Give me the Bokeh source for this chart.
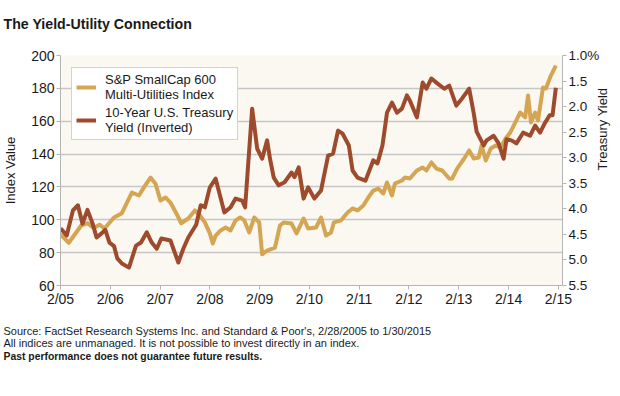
from bokeh.plotting import figure
from bokeh.models import Range1d, LinearAxis, FixedTicker, Legend, LegendItem, Title
from bokeh.embed import file_html
from bokeh.resources import INLINE
import math

FONT = "Liberation Sans"
GOLD = "#D4A553"
BROWN = "#9D4A2D"
TXT = "#1a1a1a"

# ---- data (x = months since Feb-2005) ----
x_tick_months = [0, 12, 24, 36, 48, 60, 72, 84, 96, 108, 120]
x_tick_labels = ["2/05", "2/06", "2/07", "2/08", "2/09", "2/10", "2/11", "2/12", "2/13", "2/14", "2/15"]
index_ticks = [60, 80, 100, 120, 140, 160, 180, 200]
yield_ticks = [1.0, 1.5, 2.0, 2.5, 3.0, 3.5, 4.0, 4.5, 5.0, 5.5]
yield_tick_labels = ["1.0%", "1.5", "2.0", "2.5", "3.0", "3.5", "4.0", "4.5", "5.0", "5.5"]

sp_month = [0, 1, 2, 5, 6.5, 8, 9.4, 10.6, 12.9, 14.8, 17.2, 18.9, 20.1, 21.7, 22.9, 24.1, 25.3, 26.5,
            27.9, 29.1, 30.8, 32.4, 33.6, 34.8, 36, 36.7, 37.4, 38.6, 39.8, 41, 42.2, 43.3, 44.3, 45.5,
            46.7, 47.9, 48.6, 49.8, 51.7, 52.9, 53.8, 55.7, 56.9, 58.6, 59.7, 61.6, 62.8, 64, 65.2, 65.9,
            67.6, 69.2, 70.4, 71.6, 73, 74.2, 75.4, 76.6, 77.8, 78.7, 79.9, 80.6, 82.3, 83, 84.2, 85.9,
            87.3, 88.2, 89.4, 90.6, 92, 93.7, 94.4, 95.6, 97.3, 98.5, 99.6, 100.8, 101.5, 102.5, 103.7,
            104.9, 106.1, 107.3, 108.4, 109.6, 110.8, 112, 112.7, 113.4, 114.4, 115.1, 116.3, 117, 118.2, 119.4]
sp_value = [91, 88.6, 86, 96.5, 98, 95, 97, 94.7, 101.4, 104, 116.6, 114.8, 119.7, 125.7, 122, 111.7, 113.6, 110.5,
            104, 97.9, 100.8, 105.7, 102.6, 98.4, 91.7, 85.6, 90.4, 93.5, 95.3, 93.5, 99.6, 101.4, 99.6, 92.3,
            101.4, 98.4, 79, 81.3, 83.1, 96.5, 98.4, 97.7, 91.7, 100.8, 94.7, 95.3, 101.4, 90.4, 92.3, 98.4,
            99.6, 104.4, 106.9, 105.7, 108.7, 113.6, 117.8, 119, 116, 122.7, 114.8, 122, 123.9, 125.7, 125.1, 130,
            131.8, 130, 134.9, 131.2, 130, 125.1, 125, 131.2, 137.3, 142.2, 137.3, 137.9, 145.2, 136.1, 143.4,
            145.2, 144, 149.5, 153.1, 159.2, 165.3, 162.3, 175.7, 159.2, 165.3, 160.4, 180.5, 179.9, 187.8, 193.9]

ty_month = [0, 1.5, 3, 4.2, 5.3, 6.5, 7.7, 8.7, 9.9, 10.8, 11.8, 12.9, 13.7, 14.8, 16.5, 18.2, 19.4, 20.8, 22,
            23.2, 24.3, 26.5, 28.4, 29.6, 30.8, 32.7, 33.8, 34.8, 36, 37.4, 39.5, 41, 42.2, 43.8, 44.5, 46.2,
            47.4, 48.6, 49.8, 50.5, 51.4, 52.6, 54, 55.7, 56.4, 57.4, 58.6, 59.7, 61.2, 62.8, 64.5, 65.7, 66.9,
            68, 69.5, 70.4, 71.6, 73.5, 75.4, 76.4, 77.6, 78.7, 79.9, 81.1, 82.3, 83.5, 84.2, 85.9, 87.3, 88.2,
            89.4, 90.9, 92.5, 93.7, 95.4, 96.8, 98.5, 99.6, 100.3, 102, 102.7, 104.4, 105.6, 106.8, 107.5, 108.7,
            109.9, 111.5, 113.2, 114.4, 115.6, 116.7, 117.9, 118.6, 119.4]
ty_yield = [4.38, 4.52, 4.03, 3.93, 4.29, 4.02, 4.28, 4.56, 4.48, 4.41, 4.66, 4.73, 4.97, 5.07, 5.15, 4.72, 4.66,
            4.46, 4.66, 4.78, 4.58, 4.62, 5.05, 4.78, 4.56, 4.31, 3.93, 3.97, 3.58, 3.41, 4.07, 3.97, 3.80, 3.84,
            3.97, 2.04, 2.82, 3.02, 2.66, 3.02, 3.39, 3.54, 3.48, 3.29, 3.38, 3.19, 3.80, 3.58, 3.80, 3.64, 2.96,
            2.92, 2.47, 2.53, 2.76, 3.25, 3.39, 3.45, 3.05, 3.11, 2.76, 2.12, 1.92, 2.12, 2.04, 1.78, 1.88, 2.21,
            1.53, 1.65, 1.45, 1.55, 1.65, 1.59, 1.98, 1.84, 1.65, 2.13, 2.49, 2.76, 2.66, 2.57, 2.72, 3.02, 2.64,
            2.66, 2.72, 2.51, 2.57, 2.37, 2.51, 2.33, 2.17, 2.17, 1.63]

# the yield axis is inverted: plot the negated yield on a negated range
ty_plot = [-v for v in ty_yield]
neg_ticks = [-t for t in yield_ticks]

W, H = 620, 368
BL, BR, BT, BB = 55, 55, 55, 83

p = figure(width=W, height=H, output_backend="svg", toolbar_location=None,
           x_range=Range1d(0, 121), y_range=Range1d(60, 200),
           min_border_left=BL, min_border_right=BR, min_border_top=BT, min_border_bottom=BB)
p.background_fill_color = "#FBF8F1"
p.border_fill_color = "white"
p.outline_line_color = None
p.xgrid.visible = False
p.ygrid.ticker = FixedTicker(ticks=index_ticks)
p.ygrid.grid_line_color = "#C6C6C6"
p.ygrid.grid_line_width = 1.5

AX = "#B5B5B5"
xa = p.xaxis[0]
ly = p.yaxis[0]

p.extra_y_ranges = {"yield": Range1d(start=-5.5, end=-1.0)}
ry = LinearAxis(y_range_name="yield", ticker=FixedTicker(ticks=neg_ticks),
                major_label_overrides=dict(zip(neg_ticks, yield_tick_labels)))
p.add_layout(ry, "right")

for ax in [xa, ly, ry]:
    ax.axis_line_color = AX
    ax.major_tick_line_color = AX
    ax.minor_tick_line_color = None
    ax.major_tick_out = 4
    ax.major_tick_in = 0
    ax.major_label_text_font = FONT
    ax.major_label_text_font_size = "14px"
    ax.major_label_text_color = TXT
    ax.axis_label_text_font = FONT
    ax.axis_label_text_font_size = "13px"
    ax.axis_label_text_font_style = "normal"
    ax.axis_label_text_color = TXT

xa.ticker = FixedTicker(ticks=x_tick_months)
xa.major_label_overrides = dict(zip(x_tick_months, x_tick_labels))
xa.major_label_standoff = 1
ly.ticker = FixedTicker(ticks=index_ticks)
ly.major_label_standoff = 2
ly.axis_label = "Index Value"
ly.axis_label_standoff = 10
ry.major_label_text_font_size = "13.5px"
ry.major_label_standoff = 2
ry.axis_label = "Treasury Yield"
ry.axis_label_standoff = 0
ry.axis_label_orientation = math.pi / 2

r1 = p.line(sp_month, sp_value, line_color=GOLD, line_width=4, line_join="round")
r2 = p.line(ty_month, ty_plot, y_range_name="yield", line_color=BROWN, line_width=4, line_join="round")

legend = Legend(items=[LegendItem(label="S&P SmallCap 600\nMulti-Utilities Index", renderers=[r1]),
                       LegendItem(label="10-Year U.S. Treasury\nYield (Inverted)", renderers=[r2])],
                location=(11, 145), padding=4, spacing=3, glyph_width=20, glyph_height=14,
                label_standoff=9, label_text_font=FONT, label_text_font_size="13px",
                label_text_line_height=0.92, label_text_color=TXT,
                border_line_color="#A8A8A8", border_line_width=1,
                background_fill_color="white", background_fill_alpha=1.0)
p.add_layout(legend)

# title block (spacer closest to the frame, then the title)
p.add_layout(Title(text="\u00a0", text_font_size="1px", standoff=21), "above")
p.add_layout(Title(text="The Yield-Utility Connection", align="left", offset=-57, standoff=0,
                   text_font=FONT, text_font_size="14.2px", text_font_style="bold",
                   text_color=TXT), "above")

# footnotes (spacer below the x axis, then two normal lines, then a bold line)
p.add_layout(Title(text="\u00a0", text_font_size="1px", standoff=10), "below")
p.add_layout(Title(text="Source: FactSet Research Systems Inc. and Standard & Poor's, 2/28/2005 to 1/30/2015\n"
                        "All indices are unmanaged. It is not possible to invest directly in an index.",
                   align="left", offset=-57, standoff=0, text_font=FONT, text_font_size="11px",
                   text_font_style="normal", text_line_height=1.0, text_color=TXT), "below")
p.add_layout(Title(text="Past performance does not guarantee future results.", align="left", offset=-57,
                   standoff=0, text_font=FONT, text_font_size="10.4px", text_font_style="bold",
                   text_color=TXT), "below")

open("out.html", "w").write(file_html(p, INLINE))
